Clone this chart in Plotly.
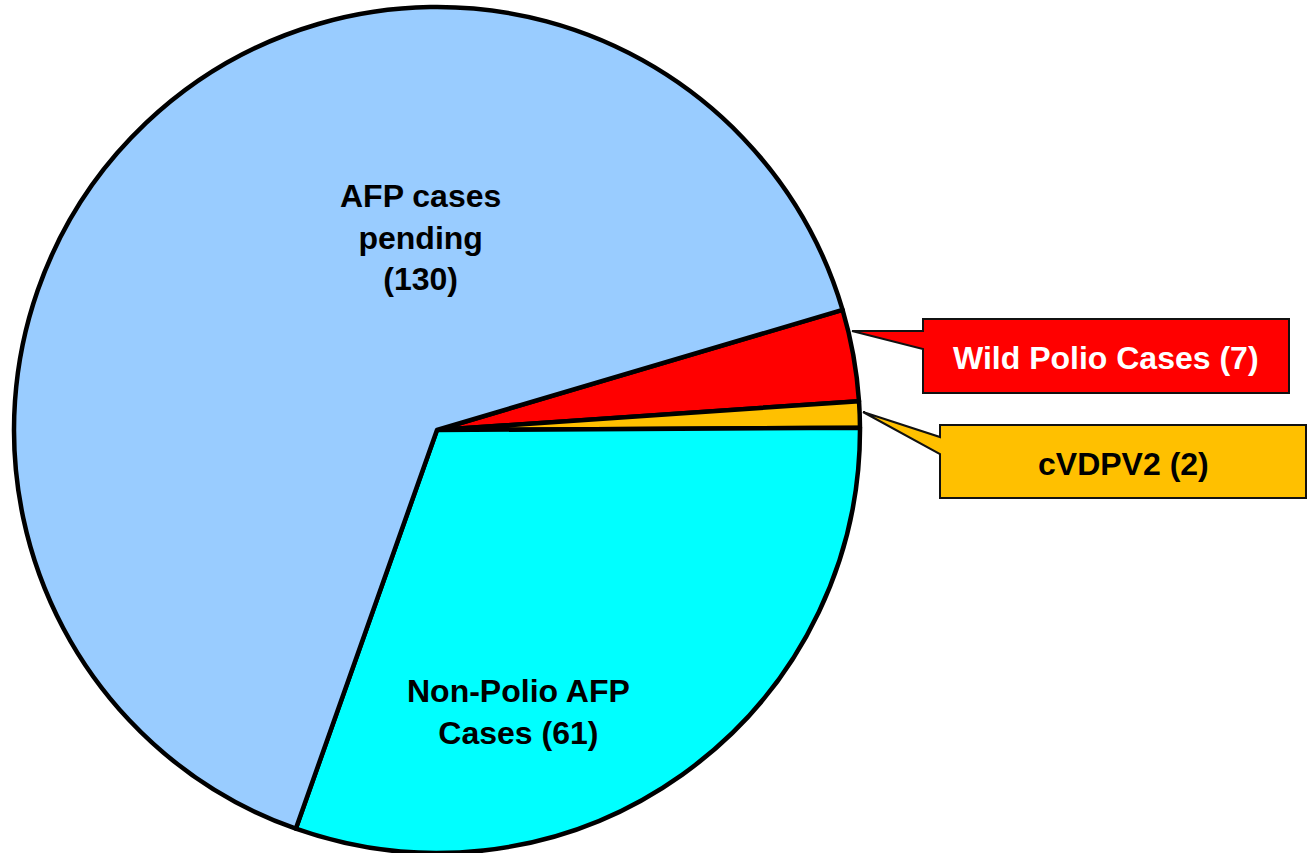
import plotly.graph_objects as go

labels = ["Wild Polio Cases", "cVDPV2", "Non-Polio AFP Cases", "AFP cases pending"]
values = [7, 2, 61, 130]
colors = ["#FF0000", "#FFC000", "#00FFFF", "#99CCFF"]

W, H = 1309, 853
CX, CY, R = 437, 430, 423
FONT = "Liberation Sans, Arial, sans-serif"


def px(x):
    return x / W


def py(y):
    return 1 - y / H


def path(points):
    s = "M " + " L ".join(f"{px(x):.5f},{py(y):.5f}" for x, y in points) + " Z"
    return s


fig = go.Figure(
    go.Pie(
        labels=labels,
        values=values,
        sort=False,
        direction="clockwise",
        rotation=73.5,
        marker=dict(colors=colors, line=dict(color="black", width=4.5)),
        textinfo="none",
        hoverinfo="label+value",
        showlegend=False,
        domain=dict(x=[px(CX - R), px(CX + R)], y=[py(CY + R), py(CY - R)]),
    )
)

# callout shapes (box + pointer wedge)
callouts = [
    dict(pts=[(852, 331), (923, 331), (923, 319), (1289, 319), (1289, 393), (923, 393), (923, 349)],
         color=colors[0]),
    dict(pts=[(863, 412), (940, 437), (940, 425), (1306, 425), (1306, 498), (940, 498), (940, 454)],
         color=colors[1]),
]
shapes = []
for c in callouts:
    shapes.append(dict(type="path", xref="paper", yref="paper", path=path(c["pts"]),
                       fillcolor=c["color"], line=dict(color="#111111", width=2), layer="above"))

annotations = [
    dict(x=px(1106), y=py(358), text=f"{labels[0]} ({values[0]})", font=dict(color="white", size=32)),
    dict(x=px(1123), y=py(464), text=f"{labels[1]} ({values[1]})", font=dict(color="black", size=32)),
    dict(x=px(420), y=py(237), text=f"AFP cases<br>pending<br>({values[3]})", font=dict(color="black", size=32)),
    dict(x=px(518), y=py(712), text=f"Non-Polio AFP<br>Cases ({values[2]})", font=dict(color="black", size=32)),
]
for a in annotations:
    a.update(xref="paper", yref="paper", showarrow=False, xanchor="center", yanchor="middle")
    a["font"].update(family=FONT, weight="bold")

fig.update_layout(
    width=W,
    height=H,
    margin=dict(l=0, r=0, t=0, b=0),
    paper_bgcolor="white",
    plot_bgcolor="white",
    shapes=shapes,
    annotations=annotations,
    font=dict(family=FONT),
)

fig.write_html("out.html", config={"displayModeBar": False},
               post_script="document.body.style.margin='0px';")
